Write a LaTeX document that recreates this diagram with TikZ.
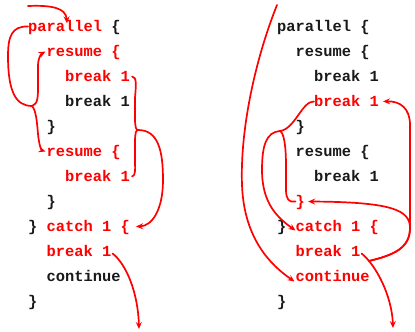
\documentclass[tikz,border=0pt]{standalone}
\usepackage{fontspec}
\newfontfamily\codefont{Liberation Mono}[WordSpace={1,0,0}]
\usetikzlibrary{arrows.meta}
\definecolor{cred}{RGB}{255,0,0}
\definecolor{cblk}{RGB}{25,25,25}
\begin{document}
\begin{tikzpicture}[x=1pt,y=-1pt,
  code/.style={anchor=base west, inner sep=0pt, text height=11pt, text depth=1pt,
    font=\codefont\bfseries\fontsize{15.4}{18}\selectfont, text=cblk},
  hot/.style={code, text=cred},
  flow/.style={draw=cred, line width=1.7pt, line cap=round},
  tip/.style={-{Stealth[length=7pt,width=6pt,inset=2.5pt]}}]
\useasboundingbox (0,0) rectangle (415,332);
% left column
\node[code] (L1) at (28,31.5) {\textcolor{cred}{parallel} \{};
\node[hot]  (L2) at (46.5,56.5) {resume \{};
\node[hot]  (L3) at (65,81.5) {break 1};
\node[code] (L4) at (65,106.5) {break 1};
\node[code] (L5) at (46.5,131.5) {\}};
\node[hot]  (L6) at (46.5,156.5) {resume \{};
\node[hot]  (L7) at (65,181.5) {break 1};
\node[code] (L8) at (46.5,206.5) {\}};
\node[code] (L9a) at (28,231.5) {\}};
\node[hot]  (L9b) at (46.5,231.5) {catch 1 \{};
\node[hot]  (L10) at (46.5,256.5) {break 1};
\node[code] (L11) at (46.5,281.5) {continue};
\node[code] (L12) at (28,306.5) {\}};
% right column
\node[code] (R1) at (277,31.5) {parallel \{};
\node[code] (R2) at (295.5,56.5) {resume \{};
\node[code] (R3) at (314,81.5) {break 1};
\node[hot]  (R4) at (314,106.5) {break 1};
\node[code] (R5) at (295.5,131.5) {\}};
\node[code] (R6) at (295.5,156.5) {resume \{};
\node[code] (R7) at (314,181.5) {break 1};
\node[hot]  (R8) at (295.5,206.5) {\}};
\node[code] (R9a) at (277,231.5) {\}};
\node[hot]  (R9b) at (295.5,231.5) {catch 1 \{};
\node[hot]  (R10) at (295.5,256.5) {break 1};
\node[hot]  (R11) at (295.5,281.5) {continue};
\node[code] (R12) at (277,306.5) {\}};
% coordinates
\coordinate (TS) at (28,6);
\coordinate (JL) at (32,106);
\coordinate (JR) at (138,130);
\coordinate (LB) at (139,329);
\coordinate (RT) at (277,5);
\coordinate (JA) at (280,131);
\coordinate (RB) at (393,328);
% left arrows
\draw[flow,tip] (TS) .. controls (52,5) and (66,8) .. ([xshift=39pt,yshift=-3pt]L1.north west);
\draw[flow] (L1.west) .. controls (12,26) and (8,36) .. (8,56) .. controls (8,92) and (16,106) .. (JL);
\draw[flow,tip] (JL) .. controls (38,104) and (38,97) .. (38,85) -- (38,66) .. controls (38,58) and (41,54) .. ([xshift=-1pt]L2.west);
\draw[flow,tip] (JL) .. controls (36,110) and (37,122) .. (38,134) .. controls (39,144) and (41,150) .. ([xshift=-1pt]L6.west);
\draw[flow] ([xshift=2pt]L3.east) .. controls (137,77) and (136,85) .. (135,98) -- (135,118) .. controls (135,127) and (136,130) .. (JR);
\draw[flow] ([xshift=2pt]L7.east) .. controls (136,176) and (135,168) .. (135,160) -- (135,142) .. controls (135,133) and (136,130) .. (JR);
\draw[flow,tip] (JR) .. controls (158,130) and (163,150) .. (163,180) .. controls (163,210) and (152,226) .. ([xshift=6pt]L9b.east);
\draw[flow,tip] ([xshift=1pt,yshift=-2pt]L10.east) .. controls (126,264) and (138,292) .. (LB);
% right arrows
\draw[flow,tip] (RT) .. controls (255,60) and (240,130) .. (242,185) .. controls (244,240) and (272,266) .. ([xshift=-1pt,yshift=-5pt]R11.west);
\draw[flow] (R4.west) .. controls (302,101) and (295,129) .. (JA);
\draw[flow,tip] (JA) .. controls (266,132) and (262,146) .. (262,170) .. controls (262,204) and (278,218) .. ([yshift=-4pt]R9b.west);
\draw[flow] (JA) .. controls (284,133) and (286,146) .. (286,166) -- (286,190) .. controls (286,199) and (289,203) .. (R8.west);
\draw[flow,tip] ([xshift=1pt,yshift=-2pt]R10.east) .. controls (376,265) and (392,296) .. coordinate[pos=0.17] (JB) (RB);
\draw[flow,tip] (JB) .. controls (394,255) and (410,248) .. (410,228) -- (410,125) .. controls (410,108) and (400,101) .. ([xshift=4pt]R4.east);
\draw[flow,tip] (JB) .. controls (394,255) and (410,248) .. (410,228) .. controls (410,210) and (392,202) .. ([xshift=3pt]R8.east);
\end{tikzpicture}
\end{document}
